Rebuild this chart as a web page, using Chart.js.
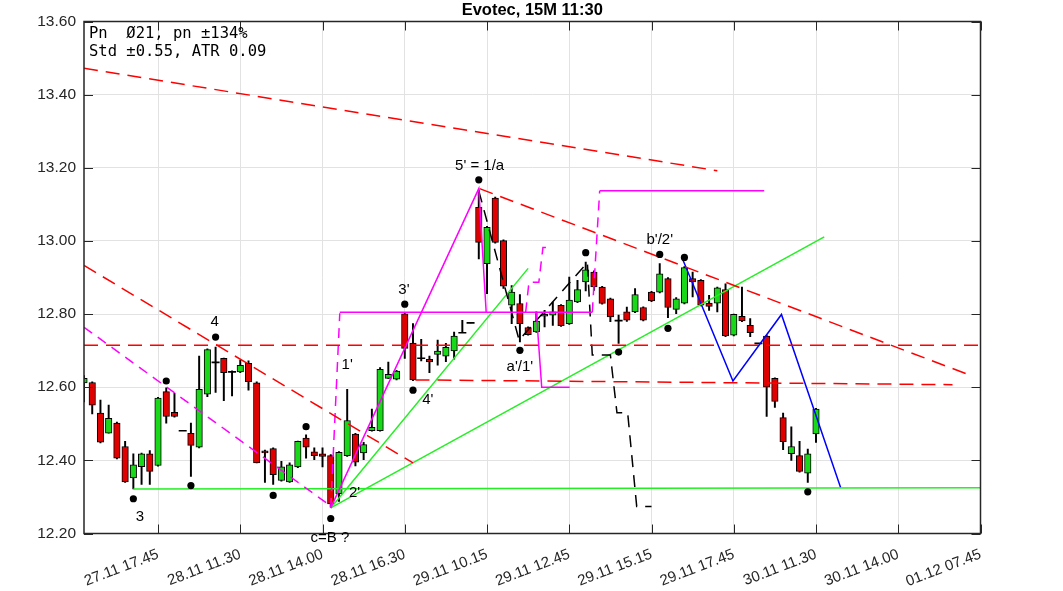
<!DOCTYPE html>
<html>
<head>
<meta charset="utf-8">
<script src="https://cdn.jsdelivr.net/npm/chart.js@4.4.0/dist/chart.umd.min.js"></script>
<style>
  html, body { margin: 0; padding: 0; background: #fff; }
  #wrap { width: 1063px; height: 591px; }
</style>
</head>
<body>
<div id="wrap"><canvas id="chart"></canvas></div>
<script>
// candles, one per 15 min bar (index = bar number)
const opens  = [12.612,12.613,12.529,12.474,12.502,12.438,12.352,12.383,12.418,12.386,
                12.588,12.531,12.481,12.474,12.436,12.581,12.668,12.679,12.642,12.642,
                12.665,12.612,12.426,12.432,12.345,12.341,12.382,12.461,12.423,12.418,
                12.413,12.309,12.413,12.472,12.420,12.481,12.481,12.624,12.622,12.801,
                12.721,12.679,12.676,12.690,12.685,12.699,12.749,12.776,13.092,12.938,
                13.117,13.001,12.824,12.829,12.763,12.751,12.799,12.797,12.824,12.774,
                12.833,12.888,12.915,12.874,12.842,12.782,12.806,12.806,12.818,12.860,
                12.860,12.897,12.813,12.830,12.897,12.892,12.830,12.830,12.867,12.742,
                12.794,12.769,12.720,12.740,12.624,12.517,12.418,12.413,12.365,12.472];
const highs  = [12.632,12.615,12.565,12.551,12.505,12.452,12.418,12.420,12.427,12.572,
                12.598,12.583,12.481,12.502,12.685,12.705,12.710,12.680,12.645,12.674,
                12.672,12.615,12.428,12.434,12.397,12.393,12.453,12.470,12.434,12.434,
                12.416,12.424,12.594,12.474,12.449,12.540,12.654,12.669,12.646,12.803,
                12.774,12.731,12.685,12.729,12.720,12.751,12.783,12.776,13.139,13.040,
                13.120,13.003,12.878,12.853,12.765,12.806,12.810,12.833,12.826,12.901,
                12.892,12.942,12.918,12.876,12.844,12.797,12.819,12.870,12.820,12.862,
                12.938,12.900,12.845,12.930,12.915,12.894,12.851,12.874,12.883,12.800,
                12.874,12.788,12.720,12.742,12.626,12.529,12.492,12.452,12.431,12.542];
const lows   = [12.560,12.527,12.448,12.474,12.404,12.340,12.322,12.334,12.334,12.384,
                12.502,12.518,12.481,12.356,12.434,12.574,12.586,12.563,12.576,12.640,
                12.592,12.393,12.340,12.334,12.343,12.340,12.380,12.406,12.402,12.382,
                12.272,12.288,12.411,12.385,12.402,12.480,12.480,12.624,12.620,12.679,
                12.618,12.672,12.640,12.660,12.670,12.677,12.749,12.776,12.951,12.856,
                12.994,12.870,12.774,12.724,12.742,12.750,12.765,12.769,12.766,12.772,
                12.831,12.863,12.865,12.827,12.779,12.720,12.780,12.804,12.781,12.834,
                12.858,12.790,12.801,12.828,12.847,12.822,12.810,12.806,12.738,12.740,
                12.779,12.738,12.720,12.520,12.545,12.429,12.400,12.368,12.340,12.449];
const closes = [12.624,12.551,12.450,12.515,12.406,12.341,12.388,12.418,12.370,12.570,
                12.520,12.520,12.481,12.441,12.594,12.703,12.668,12.640,12.642,12.660,
                12.615,12.393,12.420,12.361,12.382,12.388,12.452,12.436,12.413,12.411,
                12.281,12.422,12.509,12.395,12.443,12.490,12.649,12.635,12.644,12.706,
                12.620,12.679,12.669,12.699,12.709,12.740,12.749,12.776,12.996,13.037,
                12.996,12.876,12.860,12.774,12.744,12.781,12.794,12.806,12.768,12.838,
                12.867,12.921,12.874,12.829,12.792,12.782,12.783,12.853,12.783,12.836,
                12.910,12.818,12.842,12.927,12.888,12.824,12.821,12.872,12.740,12.799,
                12.781,12.749,12.720,12.600,12.561,12.451,12.438,12.370,12.418,12.540];

// x axis ticks (bar index) and labels
const tickIdx = [9, 19, 29, 39, 49, 59, 69, 79, 89, 99, 109];
const tickLbl = ['27.11 17.45', '28.11 11.30', '28.11 14.00', '28.11 16.30', '29.11 10.15',
                 '29.11 12.45', '29.11 15.15', '29.11 17.45', '30.11 11.30', '30.11 14.00', '01.12 07.45'];
const yTicks = [12.2, 12.4, 12.6, 12.8, 13.0, 13.2, 13.4, 13.6];

// swing points
const dotX = [6, 10, 13, 16, 23, 27, 30, 39, 40, 48, 53, 61, 65, 70, 71, 73, 88];
const dotY = [12.295, 12.617, 12.331, 12.737, 12.304, 12.492, 12.241, 12.827, 12.592,
              13.167, 12.701, 12.968, 12.696, 12.963, 12.761, 12.955, 12.314];

// wave labels
const waveLabels = ['3', '4', "1'", "2'", "3'", "4'", "5' = 1/a", "a'/1'", "b'/2'", 'c=B ?'];
const labelX = [6.8, 15.9, 32.0, 32.9, 38.9, 41.8, 48.1, 53.0, 70.0, 29.9];
const labelY = [12.246, 12.778, 12.660, 12.310, 12.865, 12.565, 13.205, 12.655, 13.004, 12.187];

const titleText = 'Evotec, 15M 11:30';
const infoLines = ['Pn  \u00d821, pn \u00b1134%', 'Std \u00b10.55, ATR 0.09'];

// trend lines [bar, price]
const redTop    = [[0, 13.472], [77, 13.192]];
const redLeft   = [[0, 12.933], [40, 12.393]];
const redFall   = [[48.1, 13.143], [107.7, 12.633]];
const redLevel  = [[0, 12.715], [109, 12.715]];
const redLow    = [[40.3, 12.620], [105.6, 12.607]];
const magFall   = [[0, 12.764], [30, 12.275]];
const magRise   = [[30, 12.27], [31.1, 12.802]];
const magImpulse = [[30, 12.27], [48, 13.143], [48.9, 12.805]];
const magShelf  = [[31.1, 12.805], [61.8, 12.805]];
const magDrop   = [[55.0, 12.805], [55.65, 12.60], [59.05, 12.60]];
const magStep   = [[53.7, 12.805], [54.1, 12.887], [55.3, 12.887], [55.8, 12.982], [56.9, 12.982]];
const magJump   = [[61.8, 12.805], [62.7, 13.137]];
const magTop    = [[62.7, 13.137], [82.7, 13.137]];
const blackPath = [[48, 13.137], [52.9, 12.729], [61.2, 12.941], [61.8, 12.688], [64.0, 12.688],
                   [64.8, 12.530], [66.1, 12.530], [67.2, 12.274], [69.0, 12.274]];
const greenBase  = [[6, 12.322], [109, 12.325]];
const greenSteep = [[30, 12.27], [54, 12.925]];
const greenLong  = [[30, 12.27], [90, 13.011]];
const bluePath   = [[72.8, 12.949], [78.9, 12.617], [84.8, 12.799], [92.0, 12.325]];

const RED = '#ff0000', MAG = '#ff00ff', GRN = '#22f022', BLU = '#0000ff';
const FONT = '"Liberation Sans", Arial, sans-serif';

function lineSet(points, color, dash) {
    return {
        type: 'line',
        data: points.map(p => ({ x: p[0], y: p[1] })),
        borderColor: color,
        borderWidth: 1.5,
        borderDash: dash || [],
        pointRadius: 0,
        fill: false,
        tension: 0,
        order: 1
    };
}

const idx = opens.map((o, i) => i);
const isDoji = idx.map(i => opens[i] === closes[i]);

const bodies = idx.filter(i => !isDoji[i]).map(i => ({ x: i, y: [opens[i], closes[i]] }));
const bodyColors = idx.filter(i => !isDoji[i]).map(i => closes[i] > opens[i] ? '#19d819' : '#e00000');
const wicks = idx.map(i => ({ x: i, y: [lows[i], highs[i]] }));
const dojis = idx.filter(i => isDoji[i]).map(i => ({ x: i, y: opens[i] }));

const decor = {
    id: 'decor',
    afterDatasetsDraw(chart) {
        const { ctx, chartArea: a, scales: { x, y } } = chart;
        ctx.save();

        // frame with inward ticks
        ctx.strokeStyle = '#262626';
        ctx.lineWidth = 1.5;
        ctx.strokeRect(a.left, a.top, a.right - a.left, a.bottom - a.top);
        ctx.lineWidth = 1;
        ctx.beginPath();
        tickIdx.forEach(v => {
            const px = Math.round(x.getPixelForValue(v)) + 0.5;
            ctx.moveTo(px, a.bottom); ctx.lineTo(px, a.bottom - 9);
            ctx.moveTo(px, a.top); ctx.lineTo(px, a.top + 9);
        });
        yTicks.forEach(v => {
            const py = Math.round(y.getPixelForValue(v)) + 0.5;
            ctx.moveTo(a.left, py); ctx.lineTo(a.left + 9, py);
            ctx.moveTo(a.right, py); ctx.lineTo(a.right - 9, py);
        });
        ctx.stroke();

        ctx.fillStyle = '#000';
        ctx.font = '15px ' + FONT;
        ctx.textAlign = 'center';
        ctx.textBaseline = 'middle';
        waveLabels.forEach((t, k) => {
            ctx.fillText(t, x.getPixelForValue(labelX[k]), y.getPixelForValue(labelY[k]));
        });

        ctx.font = 'bold 16.5px ' + FONT;
        ctx.fillText(titleText, (a.left + a.right) / 2, 10);

        ctx.textAlign = 'left';
        ctx.font = '15.5px "DejaVu Sans Mono", monospace';
        ctx.fillText(infoLines[0], a.left + 5, a.top + 12);
        ctx.fillText(infoLines[1], a.left + 5, a.top + 30);
        ctx.restore();
    }
};

new Chart(document.getElementById('chart'), {
    type: 'bar',
    data: {
        datasets: [
            { type: 'scatter', data: dotX.map((v, k) => ({ x: v, y: dotY[k] })),
              pointRadius: 3.6, pointBackgroundColor: '#000', pointBorderWidth: 0, order: 0 },
            lineSet(redTop, RED, [14, 8]),
            lineSet(redLeft, RED, [14, 8]),
            lineSet(redFall, RED, [14, 8]),
            lineSet(redLevel, RED, [14, 8]),
            lineSet(redLow, RED, [14, 8]),
            lineSet(magFall, MAG, [10, 7]),
            lineSet(magRise, MAG, [10, 7]),
            lineSet(magImpulse, MAG),
            lineSet(magShelf, MAG),
            lineSet(magDrop, MAG),
            lineSet(magStep, MAG, [10, 7]),
            lineSet(magJump, MAG, [10, 7]),
            lineSet(magTop, MAG),
            lineSet(blackPath, '#000', [12, 8]),
            lineSet(greenBase, GRN),
            lineSet(greenSteep, GRN),
            lineSet(greenLong, GRN),
            lineSet(bluePath, BLU),
            { type: 'scatter', data: dojis, pointStyle: 'line', pointRadius: 4,
              pointBorderWidth: 1.6, pointBorderColor: '#000', order: 2 },
            { type: 'bar', data: bodies, backgroundColor: bodyColors, borderColor: '#000',
              borderWidth: 1, borderSkipped: false, barThickness: 6.5, grouped: false, order: 3 },
            { type: 'bar', data: wicks, backgroundColor: '#000', borderWidth: 0,
              barThickness: 1.3, grouped: false, order: 4 }
        ]
    },
    options: {
        responsive: true,
        maintainAspectRatio: false,
        animation: false,
        events: [],
        layout: { padding: { left: 0, right: 82.5, top: 21.5, bottom: 0 } },
        plugins: {
            legend: { display: false },
            tooltip: { enabled: false },
            title: { display: false }
        },
        scales: {
            x: {
                type: 'linear',
                min: 0,
                max: 109,
                offset: false,
                afterBuildTicks: s => { s.ticks = tickIdx.map(v => ({ value: v })); },
                afterFit: s => { s.height = 57.5; },
                grid: { color: '#e2e2e2', drawTicks: false, offset: false },
                border: { display: false },
                ticks: {
                    autoSkip: false,
                    minRotation: 21,
                    maxRotation: 21,
                    padding: 12,
                    color: '#262626',
                    font: { family: FONT, size: 15 },
                    callback: v => tickLbl[tickIdx.indexOf(v)]
                }
            },
            y: {
                min: 12.2,
                max: 13.6,
                afterBuildTicks: s => { s.ticks = yTicks.map(v => ({ value: v })); },
                afterFit: s => { s.width = 84; },
                grid: { color: '#e2e2e2', drawTicks: false },
                border: { display: false },
                ticks: {
                    padding: 8,
                    color: '#262626',
                    font: { family: FONT, size: 15.5 },
                    callback: v => v.toFixed(2)
                }
            }
        }
    },
    plugins: [decor]
});
</script>
</body>
</html>
